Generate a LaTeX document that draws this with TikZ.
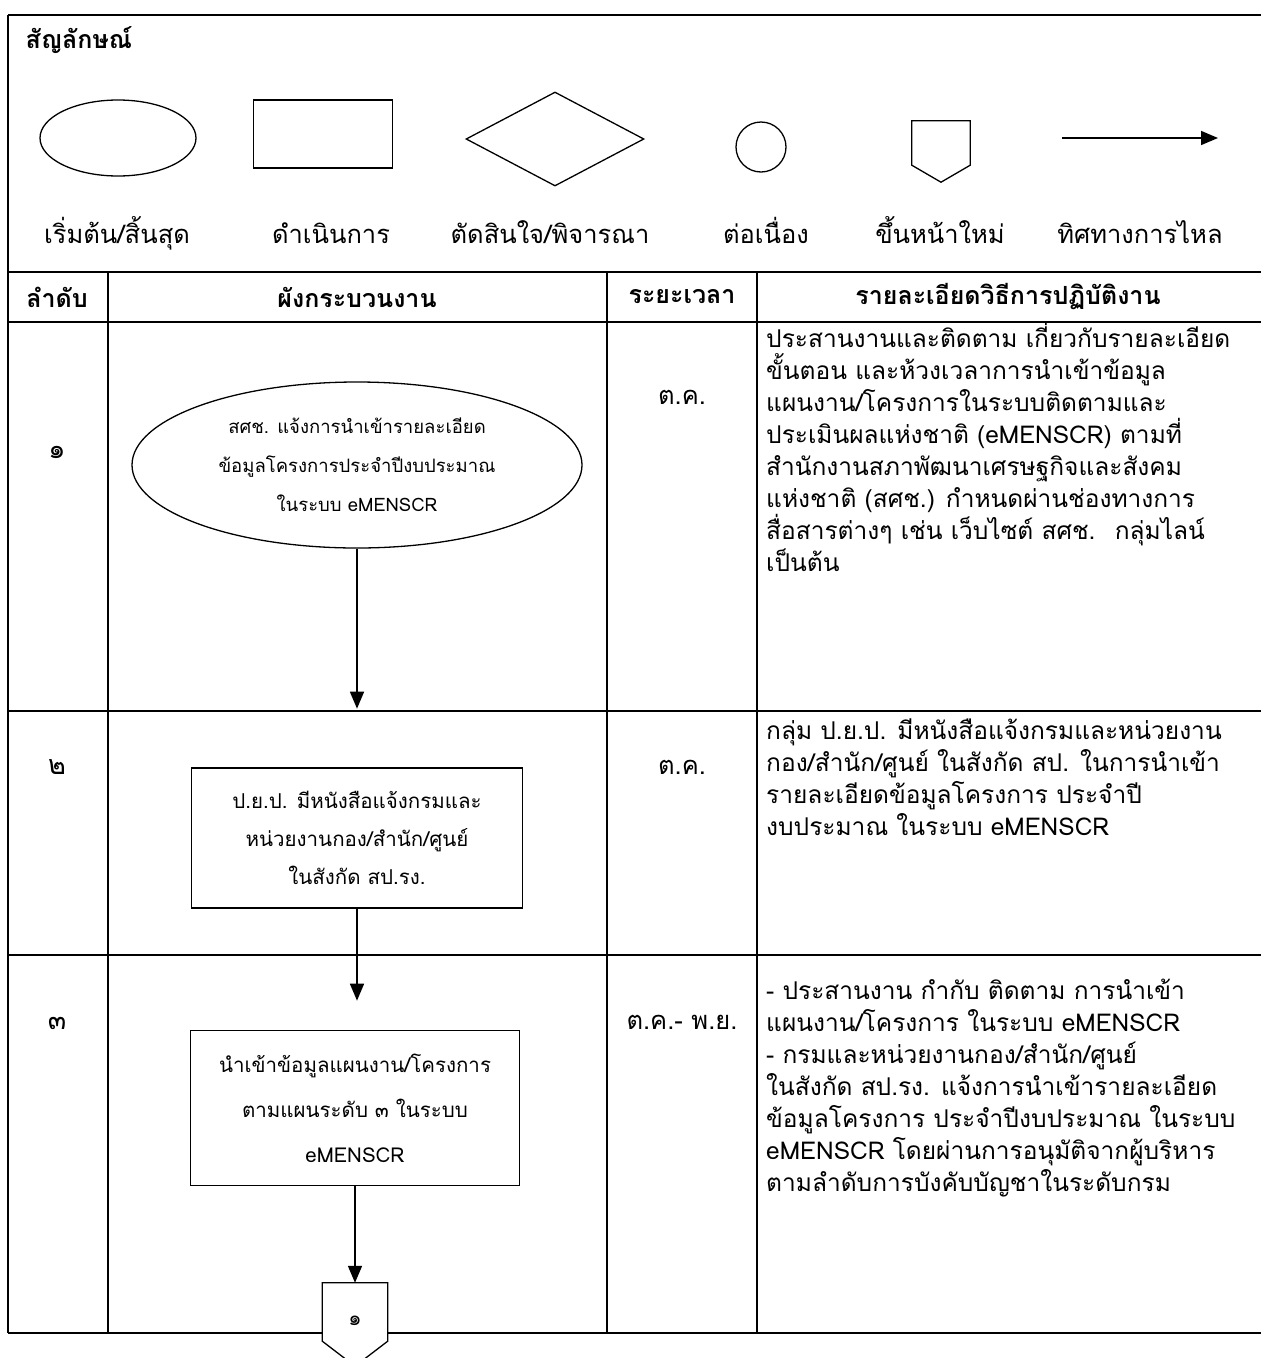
\documentclass[tikz,border=0pt]{standalone}
\usepackage{fontspec}
\setmainfont[Script=Thai]{Loma}
\usetikzlibrary{shapes.geometric,arrows.meta,positioning}

\begin{document}
\begin{tikzpicture}[x=1pt,y=-1pt,
		grid_style/.style={draw=black,line width=2pt},
		shape_style/.style={draw=black,line width=1.3pt,fill=white},
		edge_style/.style={draw=black,line width=1.6pt,-{Triangle[length=17pt,width=14pt]}},
		head_style/.style={font=\fontsize{25}{30}\selectfont\bfseries},
		legend_style/.style={font=\fontsize{25.5}{30}\selectfont},
		num_style/.style={font=\fontsize{27}{30}\selectfont},
		flow_style/.style={align=center,inner sep=0pt},
		detail_style/.style={font=\fontsize{24.5}{32}\selectfont,align=left,anchor=base west,inner sep=0pt}]

		\useasboundingbox (0,0) rectangle (1261,1358);

		% frame and table
		\draw[grid_style] (8,15) -- (1261,15);
		\draw[grid_style] (8,15) -- (8,1333);
		\foreach \y in {272,322,711,955,1333}
			\draw[grid_style] (8,\y) -- (1261,\y);
		\foreach \x in {108,607,757}
			\draw[grid_style] (\x,272) -- (\x,1333);

		% legend
		\node[head_style,anchor=west] (title) at (22,40) {สัญลักษณ์};
		\node[shape_style,ellipse,minimum width=156pt,minimum height=76pt] (g1) at (118,138) {};
		\node[shape_style,rectangle,minimum width=139pt,minimum height=68pt] (g2) at (323,134) {};
		\node[shape_style,diamond,minimum width=178pt,minimum height=94pt,inner sep=0pt] (g3) at (555,139) {};
		\node[shape_style,circle,minimum size=50pt] (g4) at (761,147) {};
		\node[minimum width=58pt,minimum height=44pt] (g5) at (941,143) {};
		\draw[shape_style] (g5.north west) -- (g5.north east) -- (g5.south east)
			-- ([yshift=-17pt]g5.south) -- (g5.south west) -- cycle;
		\coordinate (g6a) at (1062,138);
		\coordinate (g6b) at (1218,138);
		\draw[edge_style] (g6a) -- (g6b);

		\node[legend_style,anchor=base] (t1) at (117,243) {เริ่มต้น/สิ้นสุด};
		\node[legend_style,anchor=base] (t2) at (331,243) {ดำเนินการ};
		\node[legend_style,anchor=base] (t3) at (550,243) {ตัดสินใจ/พิจารณา};
		\node[legend_style,anchor=base] (t4) at (766,243) {ต่อเนื่อง};
		\node[legend_style,anchor=base] (t5) at (940,243) {ขึ้นหน้าใหม่};
		\node[legend_style,anchor=base] (t6) at (1140,243) {ทิศทางการไหล};

		% header
		\node[head_style] (h1) at (57,297) {ลำดับ};
		\node[head_style] (h2) at (357,297) {ผังกระบวนงาน};
		\node[head_style] (h3) at (682,297) {ระยะเวลา};
		\node[head_style] (h4) at (1008,297) {รายละเอียดวิธีการปฏิบัติงาน};

		% row numbers and time
		\node[num_style] (r1) at (57,452) {๑};
		\node[num_style] (r2) at (57,767) {๒};
		\node[num_style] (r3) at (57,1023) {๓};
		\node[legend_style] (d1) at (682,397) {ต.ค.};
		\node[legend_style] (d2) at (682,767) {ต.ค.};
		\node[legend_style] (d3) at (682,1022) {ต.ค.- พ.ย.};

		% flow
		\node[shape_style,flow_style,ellipse,minimum width=450pt,minimum height=166pt,
			font=\fontsize{18.5}{39}\selectfont] (s1) at (357,465)
			{สศช. แจ้งการนำเข้ารายละเอียด\\ข้อมูลโครงการประจำปีงบประมาณ\\ในระบบ eMENSCR};
		\coordinate[below=160pt of s1.south] (a1);
		\node[shape_style,flow_style,rectangle,minimum width=331pt,minimum height=140pt,
			font=\fontsize{20.5}{38}\selectfont] (s2) at (357,838)
			{ป.ย.ป. มีหนังสือแจ้งกรมและ\\หน่วยงานกอง/สำนัก/ศูนย์\\ในสังกัด สป.รง.};
		\coordinate[below=92pt of s2.south] (a2);
		\node[shape_style,flow_style,rectangle,minimum width=329pt,minimum height=155pt,
			font=\fontsize{20.5}{45}\selectfont] (s3) at (355,1108)
			{นำเข้าข้อมูลแผนงาน/โครงการ\\ตามแผนระดับ ๓ ในระบบ\\eMENSCR};
		\node[minimum width=65pt,minimum height=58pt] (p1) at (355,1312) {};
		\draw[shape_style] (p1.north west) -- (p1.north east) -- (p1.south east)
			-- ([yshift=-25pt]p1.south) -- (p1.south west) -- cycle;
		\node[num_style,font=\fontsize{21}{24}\selectfont] (p1t) at ([yshift=-9pt]p1.center) {๑};

		\draw[edge_style] (s1) -- (a1);
		\draw[edge_style] (s2) -- (a2);
		\draw[edge_style] (s3) -- (p1);

		% details (base = last line)
		\node[detail_style] (x1) at (766,571)
			{ประสานงานและติดตาม เกี่ยวกับรายละเอียด\\
			ขั้นตอน และห้วงเวลาการนำเข้าข้อมูล\\
			แผนงาน/โครงการในระบบติดตามและ\\
			ประเมินผลแห่งชาติ (eMENSCR) ตามที่\\
			สำนักงานสภาพัฒนาเศรษฐกิจและสังคม\\
			แห่งชาติ (สศช.) กำหนดผ่านช่องทางการ\\
			สื่อสารต่างๆ เช่น เว็บไซต์ สศช.~ กลุ่มไลน์\\
			เป็นต้น};
		\node[detail_style] (x2) at (766,835)
			{กลุ่ม ป.ย.ป. มีหนังสือแจ้งกรมและหน่วยงาน\\
			กอง/สำนัก/ศูนย์ ในสังกัด สป. ในการนำเข้า\\
			รายละเอียดข้อมูลโครงการ ประจำปี\\
			งบประมาณ ในระบบ eMENSCR};
		\node[detail_style] (x3) at (766,1191)
			{- ประสานงาน กำกับ ติดตาม การนำเข้า\\
			แผนงาน/โครงการ ในระบบ eMENSCR\\
			- กรมและหน่วยงานกอง/สำนัก/ศูนย์\\
			ในสังกัด สป.รง. แจ้งการนำเข้ารายละเอียด\\
			ข้อมูลโครงการ ประจำปีงบประมาณ ในระบบ\\
			eMENSCR โดยผ่านการอนุมัติจากผู้บริหาร\\
			ตามลำดับการบังคับบัญชาในระดับกรม};

\end{tikzpicture}
\end{document}
